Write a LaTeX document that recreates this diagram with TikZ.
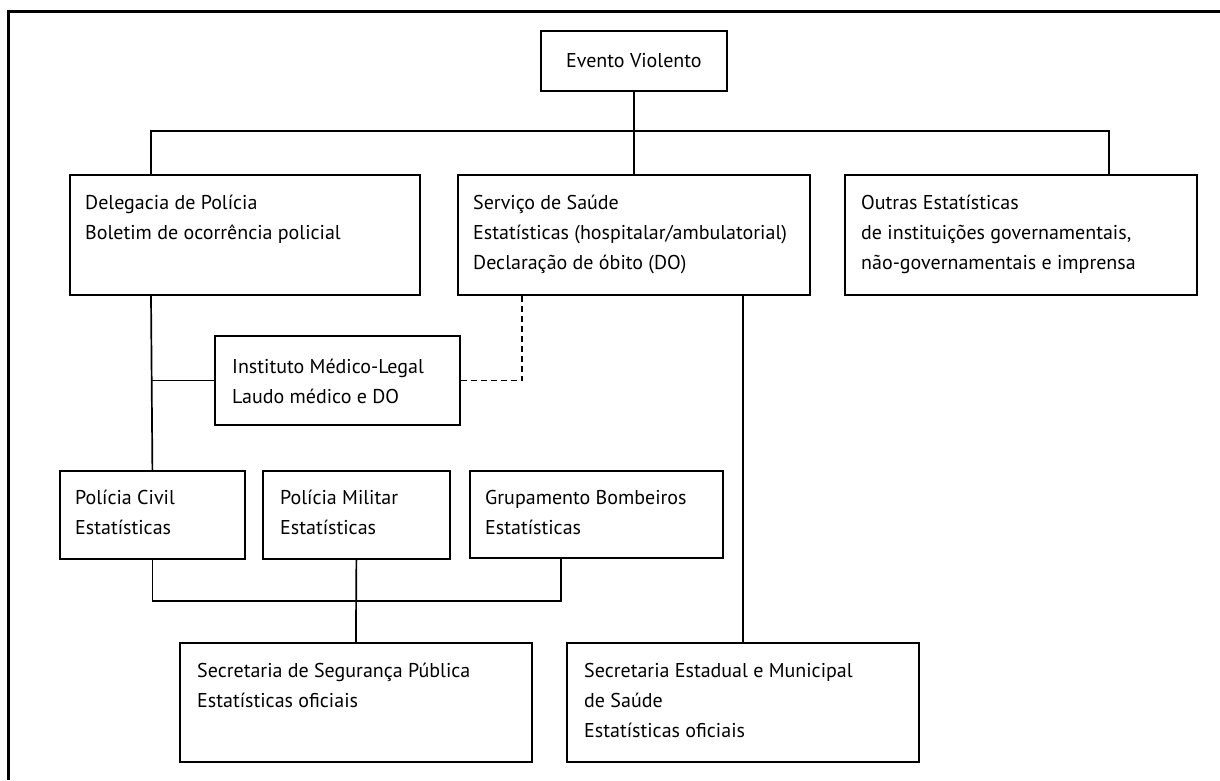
\documentclass[tikz,border=0pt]{standalone}
\usepackage{fontspec}
\setmainfont{PT Sans}
\begin{document}
\begin{tikzpicture}[x=1pt,y=1pt,
  box/.style={draw, line width=1.8pt, anchor=north west, inner sep=0pt},
  txt/.style={anchor=north west, align=left, inner sep=0pt, font=\fontsize{20}{30}\selectfont},
  conn/.style={line width=1.7pt},
  dconn/.style={line width=1.7pt, dash pattern=on 6pt off 4pt},
  frame/.style={line width=3pt}]
\useasboundingbox (0,0) rectangle (1220,-780);
\newcommand\orgbox[8]{%
  \node[box, minimum width=#4pt, minimum height=#5pt] (#1) at (#2,-#3) {};
  \node[txt] (#1t) at ([xshift=#6pt,yshift=-#7pt+20pt]#1.north west) {\rule{0pt}{20pt}#8};
}
% frame
\draw[frame] (1220,-11) -- (8,-11) -- (8,-780);
% boxes
\node[box, minimum width=186pt, minimum height=60pt, font=\fontsize{20}{30}\selectfont] (evento) at (540,-30) {Evento Violento};
\orgbox{deleg}{69}{174}{350}{120}{16}{35}{Delegacia de Polícia\\Boletim de ocorrência policial}
\orgbox{serv}{457}{174}{352}{120}{16}{35}{Serviço de Saúde\\Estatísticas (hospitalar/ambulatorial)\\Declaração de óbito (DO)}
\orgbox{outras}{844}{174}{352}{120}{17}{35}{Outras Estatísticas\\de instituições governamentais,\\não-governamentais e imprensa}
\orgbox{iml}{214}{335}{245}{89}{18}{38}{Instituto Médico-Legal\\Laudo médico e DO}
\orgbox{civil}{59}{470}{185}{88}{16}{34}{Polícia Civil\\Estatísticas}
\orgbox{milit}{262}{470}{187}{88}{18}{34}{Polícia Militar\\Estatísticas}
\orgbox{grup}{469}{470}{253}{87}{16}{34}{Grupamento Bombeiros\\Estatísticas}
\orgbox{seg}{179}{642}{352}{119}{18}{35}{Secretaria de Segurança Pública\\Estatísticas oficiais}
\orgbox{est}{566}{642}{352}{119}{18}{35}{Secretaria Estadual e Municipal\\de Saúde\\Estatísticas oficiais}
% junction coordinates
\coordinate (jl) at (151,-131);
\coordinate (jr) at (1109,-131);
\coordinate (jd) at (522,0);
\coordinate (jg) at (561,0);
\coordinate (lb) at (0,-601);
% connectors
\draw[conn] (evento.south) -- (serv.north);
\draw[conn] (jl |- deleg.north) -- (jl) -- (jr) -- (jr |- outras.north);
\draw[conn] (jl |- deleg.south) -- (civil.north);
\draw[conn] (jl |- iml.west) -- (iml.west);
\draw[dconn] (iml.east) -| (jd |- serv.south);
\draw[conn] (est.north |- serv.south) -- (est.north);
\draw[conn] (civil.south) -- (civil.south |- lb) -- (jg |- lb) -- (jg |- grup.south);
\draw[conn] (milit.south) -- (seg.north);
\end{tikzpicture}
\end{document}
